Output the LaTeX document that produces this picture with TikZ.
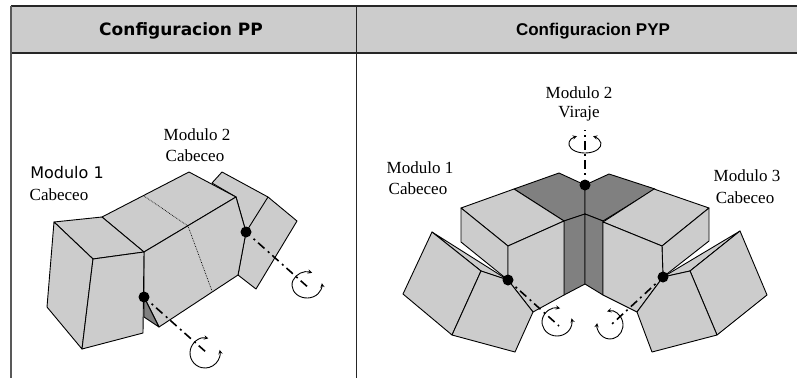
\documentclass[tikz,border=0pt]{standalone}
\usepackage{fontspec}
\setmainfont{Liberation Serif}
\newfontfamily\dejavu{DejaVu Sans}
\newfontfamily\arial{Liberation Sans}
\definecolor{panelgray}{HTML}{CCCCCC}
\definecolor{shadegray}{HTML}{808080}
\tikzset{
  panel/.style={fill=panelgray, draw=black, line width=0.9pt, line join=round},
  shade panel/.style={fill=shadegray, draw=black, line width=0.9pt, line join=round},
  rib/.style={draw=black, line width=0.9pt},
  hidden/.style={draw=black, line width=0.7pt, densely dotted},
  rule/.style={draw=black!85, line width=1.2pt},
  axisline/.style={draw=black, line width=1.6pt, dash pattern=on 2pt off 4pt on 8.5pt off 4.5pt, dash phase=14.5pt},
  rotor/.style={draw=black, line width=0.9pt, <->, >=stealth},
  joint/.style={circle, fill=black, inner sep=0pt, minimum size=11pt},
  label/.style={font=\fontsize{17}{20}\selectfont, inner sep=0pt}
}
\begin{document}
\begin{tikzpicture}[x=1pt, y=-1pt]
\useasboundingbox (0,0) rectangle (797,378);

% table head
\fill[panelgray] (11,6) rectangle (797,53);
\draw[rule] (11,6) -- (797,6);
\draw[rule] (11,53) -- (797,53);
\draw[rule, draw=black!65, line width=1.4pt] (11,6) -- (11,378);
\draw[rule, line width=0.9pt] (356.5,6) -- (356.5,378);
\node[font=\dejavu\bfseries\fontsize{17}{20}\selectfont] (headPP) at (181,31) {Configuracion PP};
\node[font=\arial\bfseries\fontsize{17}{20}\selectfont] (headPYP) at (593,31) {Configuracion PYP};

% PP: module 2
\draw[panel] (212,183) -- (222,172) -- (268,197) -- (297,221) -- (256,289) -- (238,275) -- (246,232) -- (236,197) -- cycle;
\draw[rib] (268,197) -- (246,232);
\draw[panel] (102,217) -- (189,172) -- (236,197) -- (144,252) -- cycle;
\draw[panel] (144,252) -- (236,197) -- (246,232) -- (238,275) -- (159,327) -- (144,297) -- cycle;
\draw[shade panel] (144,297) -- (159,327) -- (144,317) -- cycle;
\draw[hidden] (144,196) -- (188,226) -- (212,291);
% PP: module 1
\draw[panel] (54,222) -- (102,217) -- (144,252) -- (93,259) -- cycle;
\draw[panel] (54,222) -- (93,259) -- (82,349) -- (47,307) -- cycle;
\draw[panel] (93,259) -- (144,252) -- (143,333) -- (82,349) -- cycle;

% PYP: middle
\draw[shade panel] (514,189) -- (559,173) -- (585,185) -- (585,214) -- (564,221) -- cycle;
\draw[shade panel] (585,185) -- (609,174) -- (655,189) -- (603,221) -- (585,214) -- cycle;
\draw[shade panel] (564,221) -- (585,214) -- (585,284) -- (564,295) -- cycle;
\draw[shade panel] (585,214) -- (603,221) -- (603,295) -- (585,284) -- cycle;
% PYP: left
\draw[panel] (461,208) -- (514,189) -- (564,221) -- (508,246) -- cycle;
\draw[panel] (461,208) -- (508,246) -- (508,280) -- (461,242) -- cycle;
\draw[panel] (508,246) -- (564,221) -- (564,295) -- (533,312) -- (508,280) -- cycle;
\draw[panel] (508,280) -- (432,232) -- (481,271) -- cycle;
\draw[panel] (432,232) -- (481,271) -- (452,335) -- (403,294) -- cycle;
\draw[panel] (481,271) -- (508,280) -- (533,312) -- (515,352) -- (452,335) -- cycle;
% PYP: right
\draw[panel] (654,189) -- (709,208) -- (662,246) -- (603,222) -- cycle;
\draw[panel] (662,246) -- (709,208) -- (709,241) -- (663,277) -- cycle;
\draw[panel] (603,222) -- (662,246) -- (663,277) -- (637,312) -- (603,295) -- cycle;
\draw[panel] (663,277) -- (740,231) -- (690,271) -- cycle;
\draw[panel] (740,231) -- (767,295) -- (717,335) -- (690,271) -- cycle;
\draw[panel] (690,271) -- (663,277) -- (637,312) -- (652,352) -- (717,335) -- cycle;

% axes
\node[joint] (jointPPa) at (144,297) {};
\node[joint] (jointPPb) at (246,232) {};
\node[joint] (jointPYPa) at (508,280) {};
\node[joint] (jointPYPb) at (585,185) {};
\node[joint] (jointPYPc) at (663,277) {};
\coordinate (endPPa) at (207,353);
\coordinate (endPPb) at (310,289);
\coordinate (endPYPa) at (559,326);
\coordinate (endPYPb) at (585,130);
\coordinate (endPYPc) at (612,324);
\draw[axisline] (jointPPa) -- (endPPa);
\draw[axisline] (jointPPb) -- (endPPb);
\draw[axisline] (jointPYPa) -- (endPYPa);
\draw[axisline] (jointPYPb) -- (endPYPb);
\draw[axisline] (jointPYPc) -- (endPYPc);

% rotation marks
\draw[rotor] (205,353) ++(-77:15 and 15) arc[start angle=-77, end angle=-372, x radius=15, y radius=15];
\draw[rotor] (307,285) ++(-70:15 and 13) arc[start angle=-70, end angle=-368, x radius=15, y radius=13];
\draw[rotor] (557,322) ++(-78:15 and 14) arc[start angle=-78, end angle=-375, x radius=15, y radius=14];
\draw[rotor] (585,144) ++(-120:16 and 9) arc[start angle=-120, end angle=-420, x radius=16, y radius=9];
\draw[rotor] (610,325) ++(-103:13 and 14) arc[start angle=-103, end angle=188, x radius=13, y radius=14];

% labels
\node[label] (modA) at (197,135) {Modulo 2};
\node[label] (capA) at (195,156) {Cabeceo};
\node[label, font=\dejavu\fontsize{16}{20}\selectfont] (modB) at (67,173) {Modulo 1};
\node[label] (capB) at (59,195) {Cabeceo};
\node[label] (modC) at (420,168) {Modulo 1};
\node[label] (capC) at (418,189) {Cabeceo};
\node[label] (modD) at (579,93) {Modulo 2};
\node[label] (capD) at (579,114) {Viraje};
\node[label] (modE) at (747,176) {Modulo 3};
\node[label] (capE) at (745,198) {Cabeceo};
\end{tikzpicture}
\end{document}
